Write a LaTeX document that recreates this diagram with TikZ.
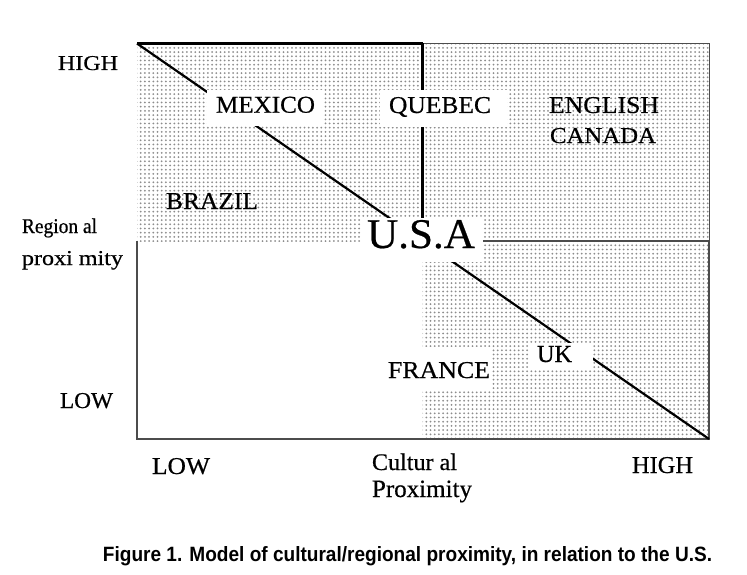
\documentclass[tikz,border=0pt]{standalone}
\usepackage{graphicx}
\usepackage{fontspec}
\setmainfont{Liberation Serif}[FakeBold=0.5]
\newfontfamily\capfont{Liberation Sans}
\usetikzlibrary{patterns}
\pgfdeclarepatternformonly{refdots}{\pgfpoint{-1pt}{-1pt}}{\pgfpoint{5.5pt}{5.5pt}}{\pgfpoint{4.2pt}{4.2pt}}{\pgfpathcircle{\pgfpoint{2.1pt}{2.1pt}}{1.0pt}\pgfusepath{fill}}
\newcommand{\fitlbl}[3]{\resizebox{#1pt}{#2pt}{#3}}
\definecolor{dotgray}{gray}{0.55}
\definecolor{edgegray}{gray}{0.3}
\tikzset{
  thickline/.style={line width=2.2pt, black},
  thinline/.style={line width=1pt, edgegray},
  medline/.style={line width=1.6pt, edgegray},
  dotarea/.style={pattern=refdots, pattern color=dotgray},
  mask/.style={fill=white},
  lbl/.style={inner sep=0pt, anchor=base},
}
\begin{document}
\begin{tikzpicture}[x=1pt,y=-1pt]
\fill[white] (0,0) rectangle (747,575);
\useasboundingbox (0,0) rectangle (747,575);
% dotted regions
\fill[dotarea] (137,43.5) rectangle (709,241);
\fill[dotarea] (422.5,241) rectangle (709,439);
% frame and lines
\coordinate (tl) at (137,43.5);
\coordinate (tm) at (422.5,43.5);
\coordinate (tr) at (709,43.5);
\coordinate (mr) at (709,241);
\coordinate (mm) at (422.5,241);
\coordinate (ms) at (483,241);
\coordinate (ml) at (137,241);
\coordinate (br) at (709,439);
\coordinate (bl) at (137,439);
\draw[thinline] (tm) -- (tr) -- (mr);
\draw[medline] (ms) -- (mr) -- (br) -- (bl) -- (ml);
\draw[thickline] (tl) -- (tm);
\draw[thickline] (tm) -- (mm);
\draw[thickline] (tl) -- (br);
% white masks behind labels
\fill[mask] (207,90) rectangle (323,126);
\fill[mask] (380,90) rectangle (507,127);
\fill[mask] (362,218) rectangle (483,262);
\fill[mask] (378,347) rectangle (492,390);
\fill[mask] (530,343) rectangle (593,370);
% labels
\node[lbl] (mexico) at (265.5,112.7) {\fitlbl{99}{16}{MEXICO}};
\node[lbl] (quebec) at (440,113) {\fitlbl{102}{16}{QUEBEC}};
\node[lbl] (english) at (604,113) {\fitlbl{110}{16}{ENGLISH}};
\node[lbl] (canada) at (603,143) {\fitlbl{106}{15}{CANADA}};
\node[lbl] (brazil) at (212,209) {\fitlbl{92}{16}{BRAZIL}};
\node[lbl] (usa) at (421,248) {\fitlbl{108}{28}{U.S.A}};
\node[lbl] (france) at (439,378) {\fitlbl{102}{16}{FRANCE}};
\node[lbl] (uk) at (554.5,362) {\fitlbl{35}{16}{UK}};
\node[lbl] (highl) at (88,70) {\fitlbl{60}{14}{HIGH}};
\node[lbl] (lowl) at (86.5,408) {\fitlbl{53}{15}{LOW}};
\node[lbl] (reg1) at (59.5,233) {\fitlbl{75}{14.5}{Region al}};
\node[lbl] (reg2) at (72.5,265) {\fitlbl{101}{14}{proxi mity}};
\node[lbl] (lowb) at (181,474) {\fitlbl{58}{16}{LOW}};
\node[lbl] (cult1) at (414.5,470) {\fitlbl{85}{16.5}{Cultur al}};
\node[lbl] (cult2) at (422,497) {\fitlbl{100}{16.5}{Proximity}};
\node[lbl] (highb) at (662.5,473) {\fitlbl{61}{16}{HIGH}};
\node[lbl] (caption) at (407.5,561) {\fitlbl{609}{15}{\capfont\bfseries Figure 1. Model of cultural/regional proximity, in relation to the U.S.}};
\end{tikzpicture}
\end{document}
